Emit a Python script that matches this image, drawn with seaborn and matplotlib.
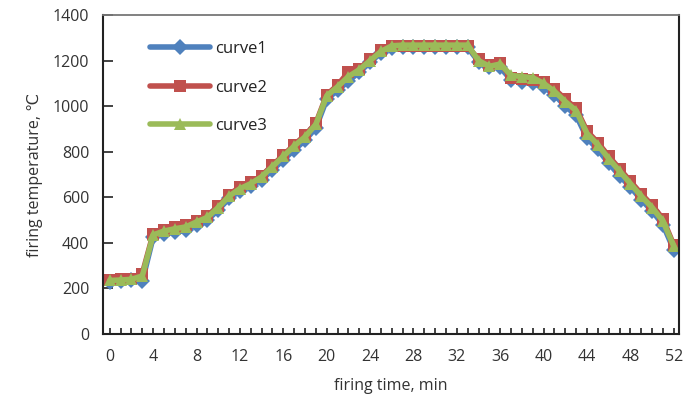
import matplotlib
matplotlib.use("Agg")
import matplotlib.pyplot as plt
import seaborn as sns
import pandas as pd
import numpy as np
from matplotlib.ticker import MultipleLocator

time_min = list(range(0, 53))
curve1 = [230, 232, 235, 232, 425, 440, 448, 455, 480, 500, 545, 595, 628, 650, 678, 720,
          765, 808, 850, 905, 1030, 1070, 1110, 1150, 1192, 1235, 1255, 1258, 1258, 1258,
          1258, 1258, 1258, 1258, 1195, 1170, 1170, 1115, 1105, 1100, 1085, 1050, 1000, 960,
          860, 810, 750, 695, 645, 590, 540, 480, 370]
curve2 = [238, 240, 243, 265, 440, 458, 468, 478, 498, 518, 560, 612, 645, 665, 695, 740,
          785, 830, 872, 925, 1050, 1092, 1150, 1165, 1205, 1245, 1262, 1262, 1262, 1262,
          1262, 1262, 1262, 1262, 1205, 1180, 1190, 1125, 1120, 1115, 1105, 1075, 1030, 990,
          890, 840, 780, 725, 670, 615, 565, 505, 390]
curve3 = [235, 237, 240, 255, 435, 452, 462, 470, 492, 512, 555, 605, 638, 660, 690, 735,
          780, 825, 865, 920, 1045, 1085, 1130, 1160, 1200, 1240, 1265, 1268, 1268, 1268,
          1268, 1268, 1268, 1268, 1200, 1175, 1185, 1135, 1130, 1125, 1100, 1065, 1020, 980,
          880, 830, 770, 715, 660, 605, 555, 495, 385]
series_names = ["curve1", "curve2", "curve3"]
x_tick_labels = [0, 4, 8, 12, 16, 20, 24, 28, 32, 36, 40, 44, 48, 52]
y_ticks = [0, 200, 400, 600, 800, 1000, 1200, 1400]

df = pd.DataFrame({
    "time": time_min * 3,
    "temp": curve1 + curve2 + curve3,
    "series": sum([[n] * len(time_min) for n in series_names], []),
})

sns.set_style("white")
plt.rcParams["font.family"] = ["Open Sans", "DejaVu Sans"]

fig = plt.figure(figsize=(6.84, 4.18), dpi=100)
ax = fig.add_axes([0.151, 0.201, 0.842, 0.763])

palette = {"curve1": "#4F81BD", "curve2": "#C0504D", "curve3": "#9BBB59"}
markers = {"curve1": "D", "curve2": "s", "curve3": "^"}
sns.lineplot(data=df, x="time", y="temp", hue="series", style="series",
             palette=palette, markers=markers, dashes=False, ax=ax,
             linewidth=4.0, markersize=8, markeredgewidth=0, mec="none")

ax.set_xlim(-0.6, 52.5)
ax.set_ylim(0, 1400)
ax.set_yticks(y_ticks)
ax.set_xticks(x_tick_labels)
ax.xaxis.set_minor_locator(MultipleLocator(1))
ax.tick_params(axis="y", direction="in", length=7, width=1.2, labelsize=11.5,
               pad=10, colors="#222222", left=True)
ax.tick_params(axis="x", which="both", direction="in", length=4, width=1.2,
               labelsize=11.5, pad=11, colors="#222222", bottom=True)
for lab in ax.get_xticklabels() + ax.get_yticklabels():
    lab.set_color("#333333")

ax.set_xlabel("firing time, min", fontsize=11.5, color="#333333", labelpad=9)
ax.set_ylabel("firing temperature, ℃", fontsize=11.5, color="#333333", labelpad=7)

for side in ["left", "bottom", "right"]:
    ax.spines[side].set_color("#222222")
    ax.spines[side].set_linewidth(1.5)
ax.spines["top"].set_color("#777777")
ax.spines["top"].set_linewidth(1.3)

handles, labels = ax.get_legend_handles_labels()
leg = ax.legend(handles, labels, loc="upper left", bbox_to_anchor=(0.055, 0.965),
                frameon=False, fontsize=12, handlelength=3.6, labelspacing=1.35,
                handletextpad=0.3)
for t in leg.get_texts():
    t.set_color("#222222")

fig.savefig("out.png", dpi=100)
